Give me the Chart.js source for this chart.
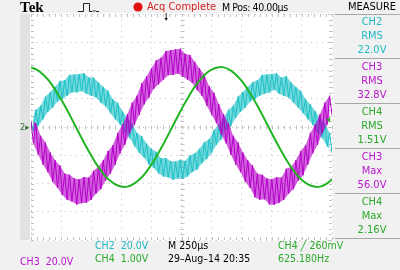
<!DOCTYPE html>
<html lang="en">
<head>
<meta charset="UTF-8">
<title>Tek scope capture</title>
<script src="https://cdn.jsdelivr.net/npm/chart.js"></script>
<style>
  body {
    margin: 0;
    width: 400px;
    height: 270px;
    overflow: hidden;
    background: #f1f1f1;
    font-family: 'Liberation Sans Narrow', 'Arial Narrow', 'DejaVu Sans Condensed', sans-serif;
    font-size: 11px;
    position: relative;
  }
  .t {
    position: absolute;
    line-height: 12px;
    white-space: nowrap;
  }
  .c { transform: translateX(-50%); text-align: center; }
  .f { font-size: 10.5px; }
  .cyan { color: #1fb9c1; }
  .mag { color: #b915cc; }
  .grn { color: #2aaa2a; }
  .sep {
    position: absolute;
    left: 335px;
    width: 65px;
    height: 1px;
    background: #a8a8a8;
  }
  #strip {
    position: absolute;
    left: 20px; top: 14px;
    width: 11px; height: 226px;
    background: #e2e2e2;
  }
  #plot {
    position: absolute;
    left: 30px; top: 13px;
    background: #fff;
  }
</style>
</head>
<body>
  <div id="strip"></div>
  <canvas id="plot" width="303" height="228"></canvas>

  <!-- header -->
  <div class="t" style="left:20px;top:0px;font:bold 15px 'Liberation Serif',serif;line-height:15px;">Tek</div>
  <svg style="position:absolute;left:78px;top:2px" width="22" height="11">
    <polyline points="0,9.5 5.5,9.5 5.5,1.5 11.5,1.5 11.5,9.5 14,9.5 15,8.5 16,9.5 17,8.5 18,9.5 21,9.5" fill="none" stroke="#222" stroke-width="1"/>
  </svg>
  <svg style="position:absolute;left:133px;top:2px" width="10" height="10">
    <circle cx="5" cy="5" r="4.6" fill="#e01010"/>
  </svg>
  <div class="t" style="left:147px;top:1px;color:#d42020;">Acq Complete</div>
  <div class="t" style="left:222px;top:1px;letter-spacing:-0.4px;font-size:10.5px;">M Pos: 40.00µs</div>
  <div class="t c" style="left:372px;top:1px;">MEASURE</div>
  <div class="t" style="left:164px;top:12px;font-size:10px;line-height:10px;">🠗</div>

  <!-- measurement panel -->
  <div class="sep" style="top:14px"></div>
  <div class="t c cyan" style="left:372px;top:16px">CH2</div>
  <div class="t c cyan" style="left:372px;top:30px">RMS</div>
  <div class="t c cyan" style="left:372px;top:44px">22.0V</div>
  <div class="sep" style="top:58px"></div>
  <div class="t c mag" style="left:372px;top:61px">CH3</div>
  <div class="t c mag" style="left:372px;top:75px">RMS</div>
  <div class="t c mag" style="left:372px;top:89px">32.8V</div>
  <div class="sep" style="top:103px"></div>
  <div class="t c grn" style="left:372px;top:106px">CH4</div>
  <div class="t c grn" style="left:372px;top:120px">RMS</div>
  <div class="t c grn" style="left:372px;top:134px">1.51V</div>
  <div class="sep" style="top:148px"></div>
  <div class="t c mag" style="left:372px;top:151px">CH3</div>
  <div class="t c mag" style="left:372px;top:165px">Max</div>
  <div class="t c mag" style="left:372px;top:179px">56.0V</div>
  <div class="sep" style="top:193px"></div>
  <div class="t c grn" style="left:372px;top:196px">CH4</div>
  <div class="t c grn" style="left:372px;top:210px">Max</div>
  <div class="t c grn" style="left:372px;top:224px">2.16V</div>
  <div class="sep" style="top:238px"></div>

  <!-- markers -->
  <div class="t" style="left:20px;top:121px;font-size:9px;color:#3a6a3a;">2▸</div>
  <div class="t grn" style="left:326px;top:113px;font-size:9px;">◂</div>

  <!-- footer -->
  <div class="t f mag" style="left:20px;top:255px">CH3&nbsp;&nbsp;20.0V</div>
  <div class="t f cyan" style="left:95px;top:239px">CH2&nbsp;&nbsp;20.0V</div>
  <div class="t f grn" style="left:95px;top:252px">CH4&nbsp;&nbsp;1.00V</div>
  <div class="t f" style="left:168px;top:239px">M 250µs</div>
  <div class="t f" style="left:168px;top:252px">29–Aug–14 20:35</div>
  <div class="t f grn" style="left:278px;top:239px">CH4 ╱ 260mV</div>
  <div class="t f grn" style="left:278px;top:252px">625.180Hz</div>

<script>
// sample spacing (µs) of the stored records
const ch2StepUs = 20;
const ch4StepUs = 50;

// CH2 (cyan), volts, 20 µs apart
const ch2Volts = [
  3.5, -3.1, 12.3, 0.7, 15.1, 5.4, 21.6, 10.7, 24.7, 13.6,
  28.4, 18.1, 32.6, 19.9, 33.1, 22.1, 37, 24.6, 37.1, 24.4,
  37.5, 25.4, 38.1, 23.6, 35, 22.1, 35.1, 20.9, 31.6, 17.1,
  28.4, 14.6, 25.7, 9.7, 19.6, 5.4, 17.1, 1.7, 11.3, -4.1,
  6.5, -7.9, 2.7, -13.7, -4.1, -18.4, -6.6, -21.7, -11.7, -26.6,
  -15.4, -29.1, -17.6, -32.9, -22.1, -35.1, -22, -35.6, -24.1, -37.4,
  -24.5, -36.4, -23.1, -36.6, -24, -35.1, -20.1, -31.9, -18.6, -30.1,
  -15.4, -25.6, -10.7, -22.7, -8.6, -18.4, -2.1, -12.7, 1.7, -8.9,
  6.5, -2.1, 12.3, 0.7, 15.1, 6.4, 21.6, 10.7, 24.7, 13.6,
  28.4, 18.1, 31.6, 19.9, 33.1, 22.1, 37, 23.6, 37.1, 24.4,
  37.5, 26.4, 38.1, 23.6, 35, 22.1, 36.1, 20.9, 31.6, 17.1,
  28.4, 13.6, 25.7, 9.7, 19.6, 5.4, 16.1, 1.7, 11.3, -4.1,
  6.5, -7.9, 2.7, -13.7, -4.1, -18.4
];

// CH3 (magenta), volts, 20 µs apart
const ch3Volts = [
  4, -11.6, 2.8, -19.7, -6.2, -26.6, -10.9, -32, -18, -38.9,
  -23.5, -43, -27.2, -48.2, -33, -51.5, -33.8, -52.7, -36.4, -54.9,
  -37, -53.9, -35.4, -53.7, -35.8, -51.5, -31, -47.2, -28.2, -44,
  -23.5, -37.9, -17, -33, -12.9, -26.6, -4.2, -18.7, 1.8, -12.6,
  9, -4.4, 17.2, 1.7, 22.2, 8.6, 30.9, 16, 36, 20.9,
  41.5, 27, 47.2, 30.2, 49, 33.5, 53.8, 36.7, 54.4, 36.9,
  55, 37.9, 55.4, 35.7, 51.8, 33.5, 51, 31.2, 46.2, 26,
  41.5, 21.9, 37, 15, 28.9, 8.6, 24.2, 2.7, 16.2, -5.4,
  9, -11.6, 2.8, -19.7, -6.2, -26.6, -10.9, -32, -18, -38.9,
  -23.5, -43, -27.2, -49.8, -33, -51.5, -33.8, -51.2, -36.4, -54.9,
  -37, -55.1, -35.4, -53.7, -35.8, -51.5, -29.5, -47.2, -28.2, -44,
  -23.5, -37.9, -17, -34.2, -12.9, -26.6, -4.2, -18.7, 1.8, -12.6,
  9, -4.4, 17.2, 1.7, 22.2, 8.6
];

// CH4 (green), volts, 50 µs apart
const ch4Volts = [
  2.11, 2.02, 1.86, 1.63, 1.33, 0.98, 0.60, 0.19, -0.22, -0.63,
  -1.01, -1.36, -1.65, -1.88, -2.03, -2.11, -2.11, -2.02, -1.86, -1.63,
  -1.33, -0.98, -0.60, -0.19, 0.22, 0.63, 1.01, 1.36, 1.65, 1.88,
  2.03, 2.11, 2.11, 2.02, 1.86, 1.63, 1.33, 0.98, 0.60, 0.19,
  -0.22, -0.63, -1.01, -1.36, -1.65, -1.88, -2.03, -2.11, -2.11, -2.02,
  -1.86
];

// graticule: 10 x 250 µs, 8 x 20 V (CH2/CH3) or 8 x 1 V (CH4)
const timeDivUs = 250;
const timeDivs = 10;
const voltDiv = 20;
const ch4VoltDiv = 1;
const vertDivs = 8;

const toPoints = (vals, step) => vals.map((v, i) => ({ x: i * step, y: v }));
// ripple tops / bottoms of a record (every other sample), used to shade the band
const peaksOf = (vals, step, parity) =>
  toPoints(vals, step).filter((_, i) => i % 2 === parity);

const gridColor = '#c2c2c2';
const cyan = '#1cc0c6';
const magenta = '#b400c8';
const green = '#22b422';

// small ticks along centre lines and edges, like the scope graticule
const graticuleTicks = {
  id: 'graticuleTicks',
  beforeDatasetsDraw(chart) {
    const { ctx, chartArea: a, scales } = chart;
    const xs = scales.x, ys = scales.y;
    const cx = Math.round(xs.getPixelForValue(timeDivUs * timeDivs / 2)) + 0.5;
    const cy = Math.round(ys.getPixelForValue(0)) + 0.5;
    ctx.save();
    ctx.strokeStyle = gridColor;
    ctx.lineWidth = 1;
    ctx.beginPath();
    for (let t = 0; t <= timeDivUs * timeDivs; t += timeDivUs / 5) {
      const px = Math.round(xs.getPixelForValue(t)) + 0.5;
      ctx.moveTo(px, cy - 2); ctx.lineTo(px, cy + 2);
      ctx.moveTo(px, a.top); ctx.lineTo(px, a.top + 3);
      ctx.moveTo(px, a.bottom); ctx.lineTo(px, a.bottom - 3);
    }
    for (let v = -voltDiv * vertDivs / 2; v <= voltDiv * vertDivs / 2; v += voltDiv / 5) {
      const py = Math.round(ys.getPixelForValue(v)) + 0.5;
      ctx.moveTo(cx - 2, py); ctx.lineTo(cx + 2, py);
      ctx.moveTo(a.left, py); ctx.lineTo(a.left + 3, py);
      ctx.moveTo(a.right, py); ctx.lineTo(a.right - 3, py);
    }
    ctx.stroke();
    ctx.restore();
  }
};

const trace = (label, data, axis, color, width) => ({
  label, data, yAxisID: axis, borderColor: color, borderWidth: width,
  pointRadius: 0, tension: 0, fill: false
});
const bandTop = (label, vals, shade) => ({
  ...trace(label, peaksOf(vals, ch2StepUs, 0), 'y', 'transparent', 0),
  fill: '+1', backgroundColor: shade
});
const bandBottom = (label, vals) =>
  trace(label, peaksOf(vals, ch2StepUs, 1), 'y', 'transparent', 0);

new Chart(document.getElementById('plot'), {
  type: 'line',
  data: {
    // first dataset is painted last (on top)
    datasets: [
      { ...trace('CH4', toPoints(ch4Volts, ch4StepUs), 'y4', green, 2), tension: 0.4 },
      trace('CH3', toPoints(ch3Volts, ch2StepUs), 'y', magenta, 1),
      bandTop('CH3 top', ch3Volts, 'rgba(180,0,200,0.62)'),
      bandBottom('CH3 bottom', ch3Volts),
      trace('CH2', toPoints(ch2Volts, ch2StepUs), 'y', cyan, 1),
      bandTop('CH2 top', ch2Volts, 'rgba(28,192,198,0.62)'),
      bandBottom('CH2 bottom', ch2Volts)
    ]
  },
  options: {
    responsive: false,
    animation: false,
    layout: { padding: 1 },
    plugins: { legend: { display: false }, tooltip: { enabled: false } },
    scales: {
      x: {
        type: 'linear',
        min: 0,
        max: timeDivUs * timeDivs,
        ticks: { display: false, stepSize: timeDivUs },
        grid: { color: gridColor, drawTicks: false },
        border: { display: false, dash: [1, 4.6] }
      },
      y: {
        min: -voltDiv * vertDivs / 2,
        max: voltDiv * vertDivs / 2,
        ticks: { display: false, stepSize: voltDiv },
        grid: { color: gridColor, drawTicks: false },
        border: { display: false, dash: [1, 4.6] }
      },
      y4: {
        display: false,
        min: -ch4VoltDiv * vertDivs / 2,
        max: ch4VoltDiv * vertDivs / 2
      }
    }
  },
  plugins: [graticuleTicks]
});
</script>
</body>
</html>
